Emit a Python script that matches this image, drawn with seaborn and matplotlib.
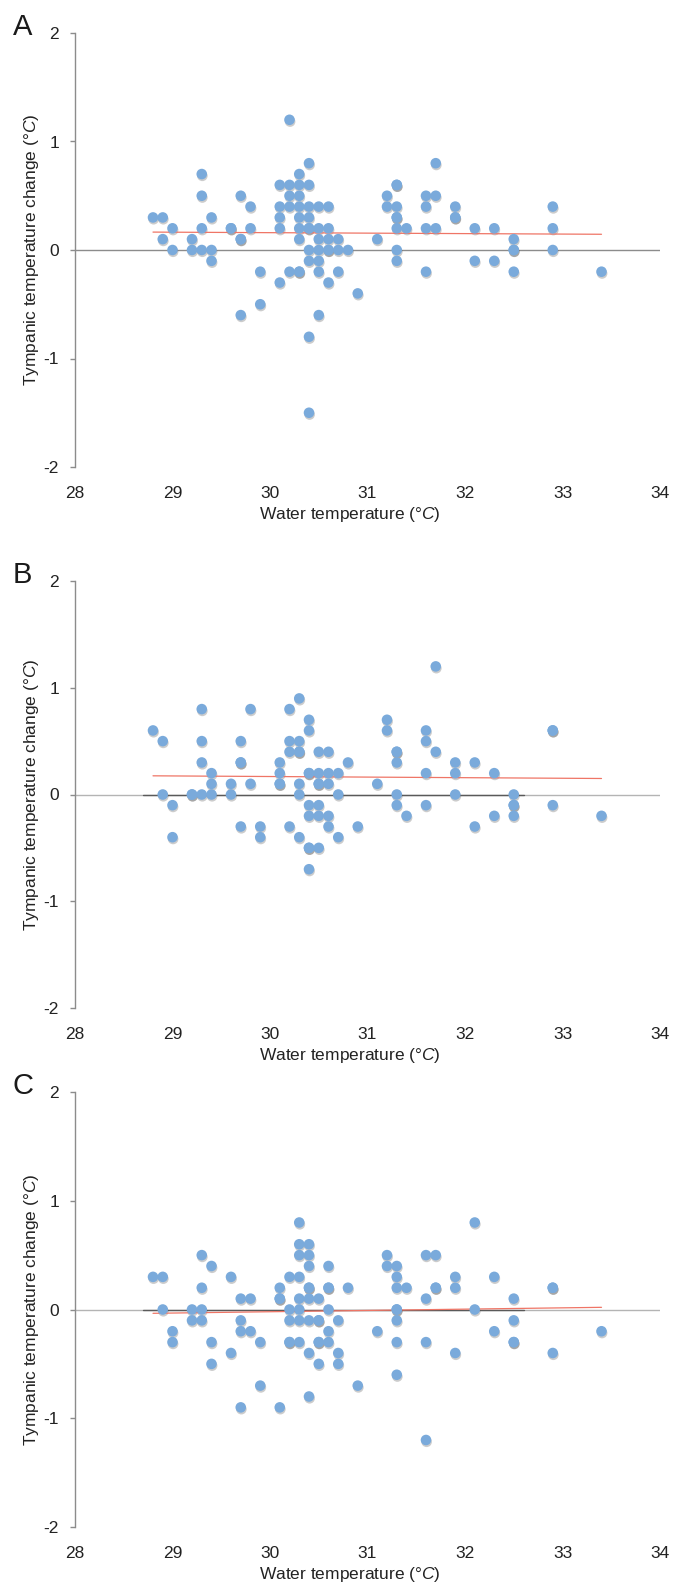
import numpy as np
import pandas as pd
import matplotlib
matplotlib.use("Agg")
import matplotlib.pyplot as plt
import seaborn as sns
from matplotlib.transforms import offset_copy

# ---------------- data ----------------
A_x = [28.8, 28.9, 28.9, 29.0, 29.0, 29.2, 29.2, 29.3, 29.3, 29.3, 29.3, 29.4, 29.4, 29.4,
       29.6, 29.6, 29.7, 29.7, 29.7, 29.7, 29.8, 29.8, 29.9, 29.9,
       30.1, 30.1, 30.1, 30.1, 30.1, 30.2, 30.2, 30.2, 30.2, 30.2,
       30.3, 30.3, 30.3, 30.3, 30.3, 30.3, 30.3, 30.3, 30.3,
       30.4, 30.4, 30.4, 30.4, 30.4, 30.4, 30.4, 30.4, 30.4, 30.4,
       30.5, 30.5, 30.5, 30.5, 30.5, 30.5, 30.5,
       30.6, 30.6, 30.6, 30.6, 30.6, 30.6, 30.7, 30.7, 30.7, 30.8, 30.9,
       31.1, 31.2, 31.2, 31.3, 31.3, 31.3, 31.3, 31.3, 31.3, 31.3, 31.3, 31.4,
       31.6, 31.6, 31.6, 31.6, 31.7, 31.7, 31.7, 31.9, 31.9, 31.9,
       32.1, 32.1, 32.3, 32.3, 32.5, 32.5, 32.5, 32.5, 32.9, 32.9, 32.9, 33.4]
A_y = [0.3, 0.3, 0.1, 0.2, 0.0, 0.1, 0.0, 0.7, 0.5, 0.2, 0.0, 0.3, 0.0, -0.1,
       0.2, 0.2, 0.5, 0.1, 0.1, -0.6, 0.4, 0.2, -0.2, -0.5,
       0.6, 0.4, 0.3, 0.2, -0.3, 1.2, 0.6, 0.5, 0.4, -0.2,
       0.7, 0.6, 0.5, 0.4, 0.3, 0.2, 0.1, -0.2, -0.2,
       0.8, 0.6, 0.4, 0.3, 0.2, 0.2, 0.0, -0.1, -0.8, -1.5,
       0.4, 0.2, 0.1, 0.0, -0.1, -0.2, -0.6,
       0.4, 0.2, 0.1, 0.0, 0.0, -0.3, 0.1, 0.0, -0.2, 0.0, -0.4,
       0.1, 0.5, 0.4, 0.6, 0.6, 0.4, 0.3, 0.3, 0.2, 0.0, -0.1, 0.2,
       0.5, 0.4, 0.2, -0.2, 0.8, 0.5, 0.2, 0.4, 0.3, 0.3,
       0.2, -0.1, 0.2, -0.1, 0.1, 0.0, 0.0, -0.2, 0.4, 0.2, 0.0, -0.2]

B_x = [28.8, 28.9, 28.9, 29.0, 29.0, 29.2, 29.2, 29.3, 29.3, 29.3, 29.3, 29.4, 29.4, 29.4,
       29.6, 29.6, 29.7, 29.7, 29.7, 29.7, 29.8, 29.8, 29.9, 29.9,
       30.1, 30.1, 30.1, 30.1, 30.2, 30.2, 30.2, 30.2,
       30.3, 30.3, 30.3, 30.3, 30.3, 30.3, 30.3,
       30.4, 30.4, 30.4, 30.4, 30.4, 30.4, 30.4, 30.4, 30.4,
       30.5, 30.5, 30.5, 30.5, 30.5, 30.5, 30.5,
       30.6, 30.6, 30.6, 30.6, 30.6, 30.7, 30.7, 30.7, 30.8, 30.9,
       31.1, 31.2, 31.2, 31.3, 31.3, 31.3, 31.3, 31.3, 31.4,
       31.6, 31.6, 31.6, 31.6, 31.7, 31.7, 31.9, 31.9, 31.9,
       32.1, 32.1, 32.3, 32.3, 32.5, 32.5, 32.5, 32.5, 32.9, 32.9, 32.9, 33.4]
B_y = [0.6, 0.5, 0.0, -0.1, -0.4, 0.0, 0.0, 0.8, 0.5, 0.3, 0.0, 0.2, 0.1, 0.0,
       0.1, 0.0, 0.5, 0.3, 0.3, -0.3, 0.8, 0.1, -0.3, -0.4,
       0.3, 0.2, 0.1, 0.1, 0.8, 0.5, 0.4, -0.3,
       0.9, 0.5, 0.4, 0.4, 0.1, 0.0, -0.4,
       0.7, 0.6, 0.2, 0.2, -0.1, -0.2, -0.5, -0.5, -0.7,
       0.4, 0.2, 0.1, 0.1, -0.1, -0.2, -0.5,
       0.4, 0.2, 0.1, -0.2, -0.3, 0.2, 0.0, -0.4, 0.3, -0.3,
       0.1, 0.7, 0.6, 0.4, 0.4, 0.3, 0.0, -0.1, -0.2,
       0.6, 0.5, 0.2, -0.1, 1.2, 0.4, 0.3, 0.2, 0.0,
       0.3, -0.3, 0.2, -0.2, 0.0, -0.1, -0.1, -0.2, 0.6, 0.6, -0.1, -0.2]

C_x = [28.8, 28.9, 28.9, 29.0, 29.0, 29.2, 29.2, 29.3, 29.3, 29.3, 29.3, 29.4, 29.4, 29.4,
       29.6, 29.6, 29.7, 29.7, 29.7, 29.7, 29.8, 29.8, 29.9, 29.9,
       30.1, 30.1, 30.1, 30.1, 30.2, 30.2, 30.2, 30.2, 30.2,
       30.3, 30.3, 30.3, 30.3, 30.3, 30.3, 30.3, 30.3,
       30.4, 30.4, 30.4, 30.4, 30.4, 30.4, 30.4, 30.4, 30.4,
       30.5, 30.5, 30.5, 30.5, 30.5, 30.5,
       30.6, 30.6, 30.6, 30.6, 30.6, 30.6, 30.7, 30.7, 30.7, 30.8, 30.9,
       31.1, 31.2, 31.2, 31.3, 31.3, 31.3, 31.3, 31.3, 31.3, 31.3, 31.3, 31.4,
       31.6, 31.6, 31.6, 31.6, 31.7, 31.7, 31.7, 31.9, 31.9, 31.9,
       32.1, 32.1, 32.3, 32.3, 32.5, 32.5, 32.5, 32.5, 32.9, 32.9, 32.9, 33.4]
C_y = [0.3, 0.3, 0.0, -0.2, -0.3, 0.0, -0.1, 0.5, 0.2, 0.0, -0.1, 0.4, -0.3, -0.5,
       0.3, -0.4, 0.1, -0.1, -0.2, -0.9, 0.1, -0.2, -0.3, -0.7,
       0.2, 0.1, 0.1, -0.9, 0.3, 0.0, -0.1, -0.3, -0.3,
       0.8, 0.6, 0.5, 0.3, 0.1, 0.0, -0.1, -0.3,
       0.6, 0.5, 0.4, 0.2, 0.2, 0.1, -0.1, -0.4, -0.8,
       0.1, -0.1, -0.1, -0.3, -0.3, -0.5,
       0.4, 0.2, 0.2, 0.0, -0.2, -0.3, -0.1, -0.4, -0.5, 0.2, -0.7,
       -0.2, 0.5, 0.4, 0.4, 0.3, 0.2, 0.0, 0.0, -0.1, -0.3, -0.6, 0.2,
       0.5, 0.1, -0.3, -1.2, 0.5, 0.2, 0.2, 0.3, 0.2, -0.4,
       0.8, 0.0, 0.3, -0.2, 0.1, -0.1, -0.3, -0.3, 0.2, 0.2, -0.4, -0.2]

# fitted trend lines (red)
trend_x = [28.8, 33.4]
trend_A = [0.165, 0.145]
trend_B = [0.175, 0.150]
trend_C = [-0.035, 0.020]

# darker zero-level segment seen in panels B and C
zero_seg_x = [28.7, 32.6]
zero_seg_y = [0.0, 0.0]
has_zero_seg = [False, True, True]

panel_labels = ["A", "B", "C"]
x_ticks = [28, 29, 30, 31, 32, 33, 34]
y_ticks = [-2, -1, 0, 1, 2]
y_ticklabels = ["-2", "-1", "0", "1", "2"]
x_label = r"Water temperature $\mathit{(°C)}$"
y_label = r"Tympanic temperature change $\mathit{(°C)}$"

# ---------------- style ----------------
sns.set_theme(style="white")
plt.rcParams["font.family"] = ["Liberation Sans", "DejaVu Sans"]
plt.rcParams["mathtext.fontset"] = "custom"
plt.rcParams["mathtext.rm"] = "Liberation Sans"
plt.rcParams["mathtext.it"] = "Liberation Sans:italic"

W, H = 689, 1584
fig = plt.figure(figsize=(W / 100, H / 100), dpi=100)

# axes boxes in pixels: (left, top, right, bottom)
boxes = [(75, 33, 660, 467), (75, 581, 660, 1008), (75, 1092, 660, 1527)]

panels = [(A_x, A_y, trend_A), (B_x, B_y, trend_B), (C_x, C_y, trend_C)]

grey = "#8c8c8c"
point_col = "#7aaadb"

for (l, t, r, b), (xs, ys, tr), lab, seg in zip(boxes, panels, panel_labels, has_zero_seg):
    ax = fig.add_axes([l / W, 1 - b / H, (r - l) / W, (b - t) / H])
    df = pd.DataFrame({"x": xs, "y": ys})

    ax.axhline(0, color="#b4b4b4" if seg else grey, lw=1.0, zorder=1)
    if seg:
        sns.lineplot(x=zero_seg_x, y=zero_seg_y, ax=ax, color="#5a5a5a",
                     lw=1.0, zorder=1.2)

    shadow = offset_copy(ax.transData, fig=fig, x=0.6, y=-1.8, units="dots")
    sns.scatterplot(data=df, x="x", y="y", ax=ax, s=58, color="#4a4a4a",
                    alpha=0.28, edgecolor="none", linewidth=0, transform=shadow,
                    zorder=2, legend=False)
    sns.lineplot(x=trend_x, y=tr, ax=ax, color="#ef7566", lw=0.9, zorder=2.5)
    sns.scatterplot(data=df, x="x", y="y", ax=ax, s=58, color=point_col,
                    edgecolor="none", linewidth=0, zorder=3, legend=False)

    ax.set_xlim(28, 34)
    ax.set_ylim(-2, 2)
    ax.set_xticks(x_ticks)
    ax.set_xticklabels([str(v) for v in x_ticks])
    ax.set_yticks(y_ticks)
    ax.set_yticklabels(y_ticklabels)

    for s in ["top", "right", "bottom"]:
        ax.spines[s].set_visible(False)
    ax.spines["left"].set_color(grey)
    ax.spines["left"].set_linewidth(1.0)

    ax.tick_params(axis="y", which="major", left=True, length=3.5, width=1.0,
                   color=grey, direction="out", pad=8, labelsize=12.5,
                   labelcolor="#222222")
    ax.tick_params(axis="x", which="major", bottom=True, length=0, pad=14,
                   labelsize=12.5, labelcolor="#222222")

    ax.set_xlabel(x_label, fontsize=12.5, color="#222222")
    ax.xaxis.set_label_coords(0.47, -0.088)
    ax.set_ylabel(y_label, fontsize=12.5, color="#222222")
    ax.yaxis.set_label_coords(-0.058, 0.5)

    ax.text(-0.106, 0.995, lab, transform=ax.transAxes, fontsize=21,
            ha="left", va="baseline", color="#1a1a1a")

fig.savefig("out.png", dpi=100, facecolor="white")
